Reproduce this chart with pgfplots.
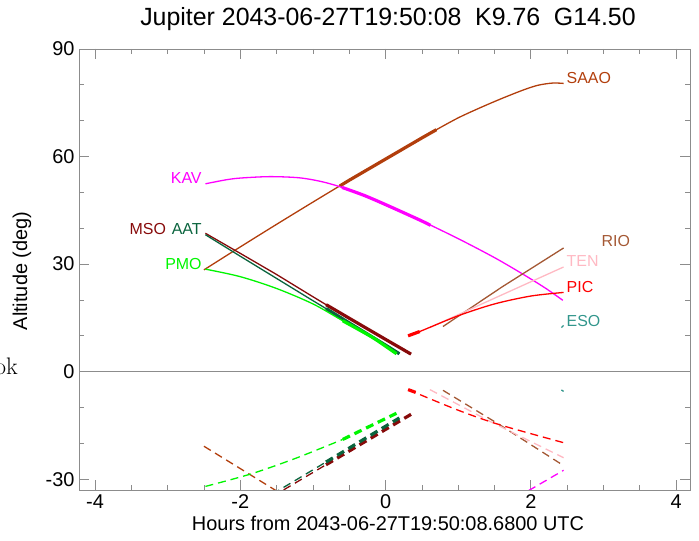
\documentclass[border=0pt]{standalone}
\usepackage{fontspec}
\usepackage{pgfplots}
\pgfplotsset{compat=1.18}
\newfontfamily\arial{Liberation Sans}
\definecolor{saao}{RGB}{178,62,12}
\definecolor{kav}{RGB}{255,0,255}
\definecolor{mso}{RGB}{135,10,10}
\definecolor{aat}{RGB}{10,100,62}
\definecolor{pmo}{RGB}{0,245,0}
\definecolor{rio}{RGB}{164,88,52}
\definecolor{ten}{RGB}{255,185,195}
\definecolor{pic}{RGB}{255,0,0}
\definecolor{eso}{RGB}{50,150,140}
\definecolor{frame}{RGB}{140,140,140}
\begin{document}
\begin{tikzpicture}
\begin{axis}[
    at={(79bp,51bp)}, anchor=south west,
    scale only axis,
    width=611bp, height=441bp,
    xmin=-4.22, xmax=4.19,
    ymin=-33, ymax=90,
    xtick={-4,-2,0,2,4},
    minor xtick={-4,-3.5,...,4},
    ytick={-30,0,30,60,90},
    minor ytick={-30,-20,...,90},
    tick align=inside,
    major tick length=10bp,
    minor tick length=5bp,
    axis line style={frame, line width=0.8bp},
    every tick/.style={frame, line width=0.8bp},
    /pgf/number format/assume math mode=true,
    ticklabel style={font=\arial\fontsize{20}{20}\selectfont},
    xticklabel style={yshift=-1bp},
    yticklabel style={xshift=-1bp},
    clip=true,
    every axis plot/.append style={line width=1.3bp},
]
% zero line
\addplot[frame, line width=0.8bp] coordinates {(-4.22,0)(4.19,0)};

% SAAO
\addplot[saao, smooth] coordinates {(-2.5,28.4)(-2,34.8)(-1.5,41.1)(-1,47.3)(-0.5,53.4)(0,59.3)(0.5,65.2)(0.7,67.5)(1,70.8)(1.3,73.6)(1.6,76.2)(1.9,78.6)(2.1,79.9)(2.3,80.5)(2.45,80.4)};
\addplot[saao, line width=3.2bp] coordinates {(-0.63,51.8)(-0.5,53.4)(0,59.3)(0.5,65.2)(0.7,67.5)};
\addplot[saao, dash pattern=on 8bp off 5bp] coordinates {(-2.5,-20.8)(-1.0,-39.5)};

% KAV
\addplot[kav, smooth] coordinates {(-2.48,52.4)(-2.2,53.5)(-2,54.0)(-1.6,54.4)(-1.2,54.1)(-0.9,53.1)(-0.63,51.6)(-0.3,49.2)(0,46.6)(0.47,42.3)(1,37.1)(1.5,31.8)(1.89,27.2)(2.2,23.3)(2.44,19.9)};
\addplot[kav, line width=3.2bp, smooth] coordinates {(-0.6,51.4)(-0.3,49.2)(0,46.6)(0.47,42.3)(0.62,40.8)};
\addplot[kav, dash pattern=on 8bp off 5bp] coordinates {(1.5,-38.6)(2.0,-32.8)(2.45,-27.5)};

% MSO
\addplot[mso] coordinates {(-2.48,38.6)(-2,33.0)(-1.5,27.1)(-1,20.9)(-0.82,18.7)(-0.5,14.9)(0,9.0)(0.35,4.9)};
\addplot[mso, line width=3.2bp] coordinates {(-0.82,18.7)(-0.5,14.9)(0,9.0)(0.35,4.9)};
\addplot[mso, dash pattern=on 8bp off 5bp] coordinates {(-2.48,-45.9)(-0.82,-25.96)};
\addplot[mso, line width=3.2bp, dash pattern=on 8bp off 5bp] coordinates {(-0.82,-25.96)(0.35,-11.9)};

% AAT
\addplot[aat] coordinates {(-2.48,38.2)(-2,32.2)(-1.5,26.0)(-1,19.8)(-0.82,17.6)(-0.5,13.6)(0,7.4)(0.19,5.0)};
\addplot[aat, line width=3.2bp] coordinates {(-0.82,17.6)(-0.5,13.6)(0,7.4)(0.19,5.0)};
\addplot[aat, dash pattern=on 8bp off 5bp] coordinates {(-2.48,-45.3)(-0.82,-25.2)};
\addplot[aat, line width=3.2bp, dash pattern=on 8bp off 5bp] coordinates {(-0.82,-25.2)(0.19,-12.9)};

% PMO
\addplot[pmo, smooth] coordinates {(-2.48,28.6)(-2.0,26.5)(-1.5,23.2)(-1.0,18.9)(-0.59,14.2)(-0.2,9.8)(0,7.1)(0.15,5.0)};
\addplot[pmo, line width=3.2bp, smooth] coordinates {(-0.59,14.2)(-0.2,9.8)(0,7.1)(0.15,5.0)};
\addplot[pmo, smooth, dash pattern=on 8bp off 5bp] coordinates {(-2.48,-32.0)(-1.85,-28.5)(-1.23,-24.1)(-0.59,-18.9)};
\addplot[pmo, line width=3.2bp, dash pattern=on 8bp off 5bp] coordinates {(-0.59,-18.9)(0.15,-11.6)};

% RIO
\addplot[rio] coordinates {(0.79,12.6)(1.6,23.6)(2.45,34.5)};
\addplot[rio, dash pattern=on 8bp off 5bp] coordinates {(0.79,-5.2)(1.57,-14.8)(2.45,-26.2)};

% TEN
\addplot[ten] coordinates {(0.61,12.3)(1.5,20.5)(2.45,29.2)};
\addplot[ten, dash pattern=on 8bp off 5bp] coordinates {(0.61,-5.0)(1.43,-13.8)(2.45,-24.0)};

% PIC
\addplot[pic, smooth] coordinates {(0.31,10.0)(0.47,11.2)(1.0,15.6)(1.5,18.9)(2.0,21.1)(2.45,22.1)};
\addplot[pic, line width=3.2bp] coordinates {(0.31,10.0)(0.47,11.2)};
\addplot[pic, smooth, dash pattern=on 8bp off 5bp] coordinates {(0.31,-5.0)(0.98,-10.6)(1.57,-14.8)(2.45,-19.8)};
\addplot[pic, line width=3.2bp, dash pattern=on 8bp off 5bp] coordinates {(0.31,-5.0)(0.47,-6.2)};

% ESO
\addplot[eso] coordinates {(2.42,12.3)(2.45,12.9)};
\addplot[eso] coordinates {(2.42,-5.1)(2.45,-5.5)};

% station labels
\begin{scope}[every node/.style={font=\arial\fontsize{16}{16}\selectfont, inner sep=0pt}]
\node[saao, anchor=base west] at (axis cs:2.49,80.4) {SAAO};
\node[kav, anchor=base east] at (axis cs:-2.53,52.4) {KAV};
\node[aat, anchor=base east] at (axis cs:-2.53,38.2) {AAT};
\node[mso, anchor=base east] at (axis cs:-3.02,38.2) {MSO};
\node[pmo, anchor=base east] at (axis cs:-2.53,28.6) {PMO};
\node[rio, anchor=base west] at (axis cs:2.97,34.8) {RIO};
\node[ten, anchor=base west] at (axis cs:2.49,29.2) {TEN};
\node[pic, anchor=base west] at (axis cs:2.49,22.1) {PIC};
\node[eso, anchor=base west] at (axis cs:2.49,12.6) {ESO};
\end{scope}
\end{axis}
\node[font=\arial\fontsize{25}{25}\selectfont, anchor=base] at (388bp,515bp) {Jupiter 2043-06-27T19:50:08\hspace{0.55em}K9.76\hspace{0.55em}G14.50};
\node[font=\arial\fontsize{20}{20}\selectfont, anchor=base] at (388bp,11bp) {Hours from 2043-06-27T19:50:08.6800 UTC};
\node[font=\arial\fontsize{20}{20}\selectfont, rotate=90, anchor=center] at (22bp,270bp) {Altitude (deg)};
\node[font=\fontsize{24}{24}\selectfont, anchor=base east, inner sep=0pt] at (18bp,166bp) {ok};
\pgfresetboundingbox
\useasboundingbox (0,0) rectangle (699bp,541bp);
\end{tikzpicture}
\end{document}
